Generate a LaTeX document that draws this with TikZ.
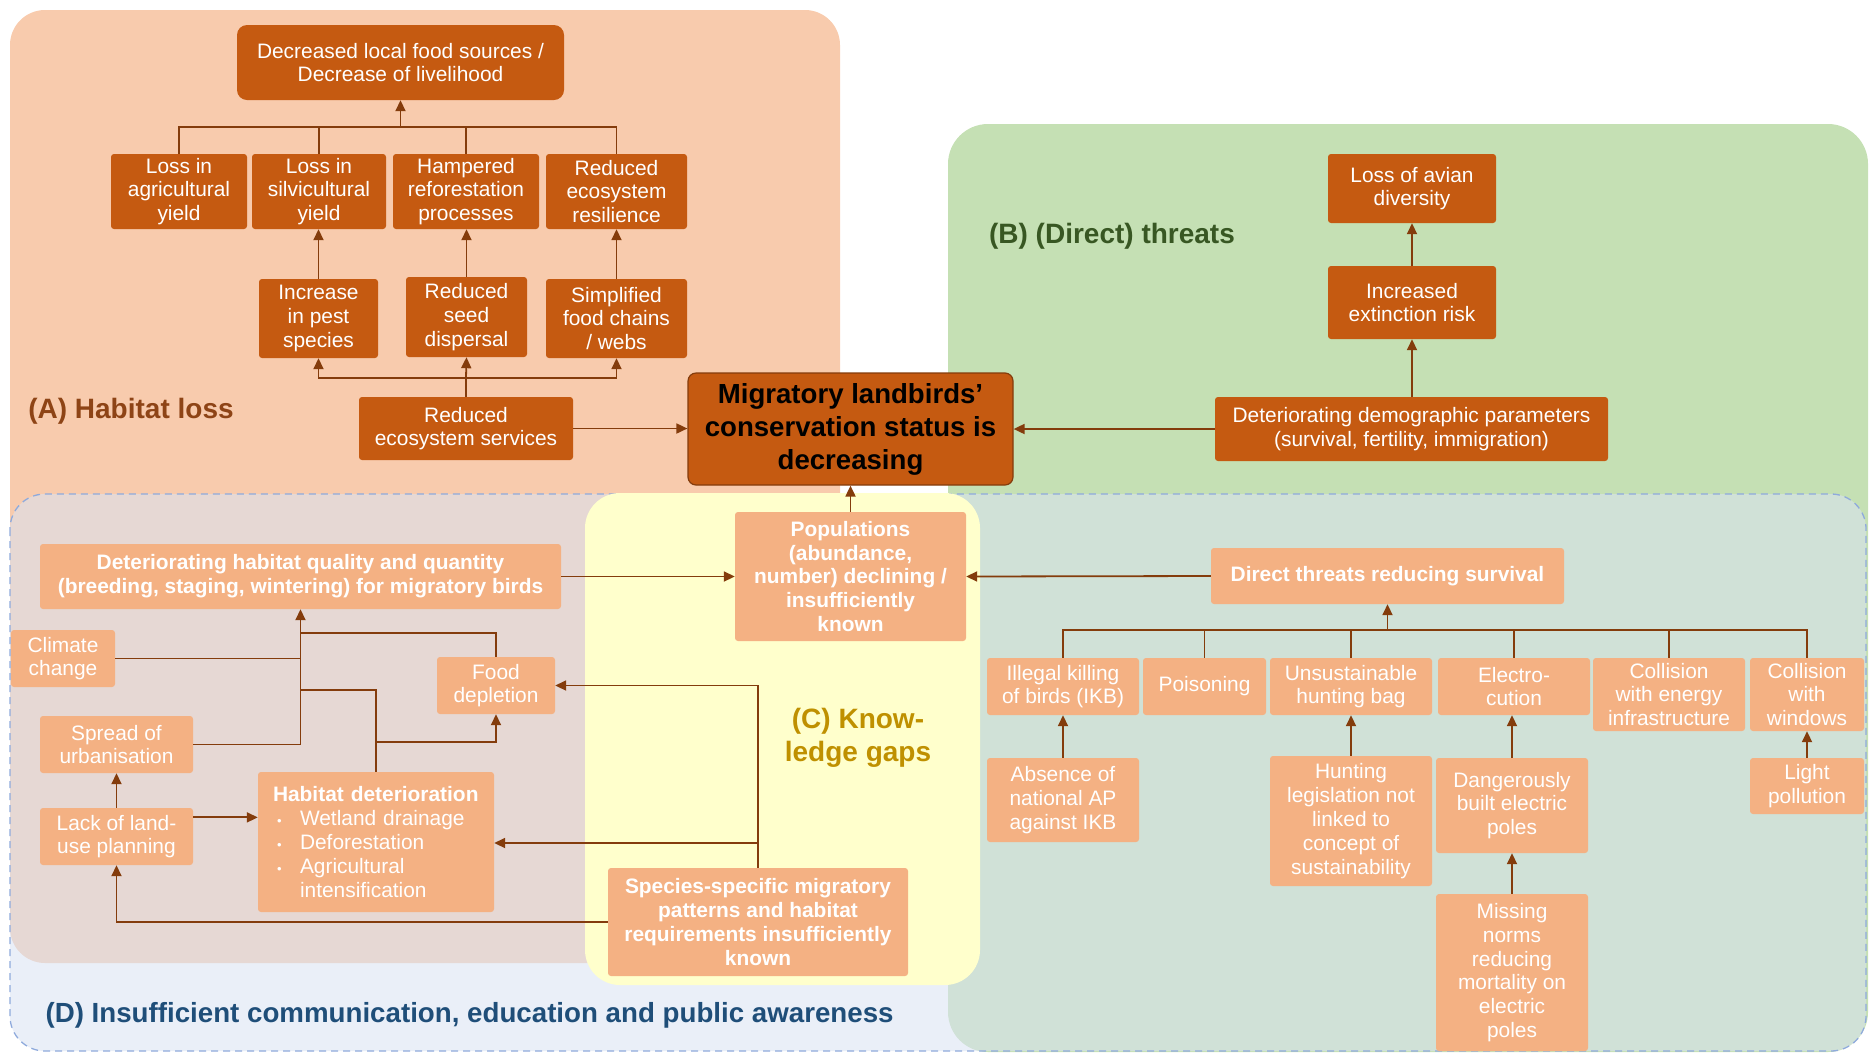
\documentclass[tikz,border=0pt]{standalone}
\usepackage{fontspec}
\setmainfont{Liberation Sans}
\usetikzlibrary{arrows.meta}
\definecolor{dkor}{HTML}{C55A11}
\definecolor{ltor}{HTML}{F4B183}
\definecolor{arrc}{HTML}{843C0C}
\definecolor{regA}{HTML}{F8CBAD}
\definecolor{regB}{HTML}{C5E0B4}
\definecolor{regC}{HTML}{FFFFCC}
\definecolor{regD}{HTML}{DAE3F3}
\definecolor{dashD}{HTML}{8FAADC}
\definecolor{labA}{HTML}{8E4416}
\definecolor{labB}{HTML}{385723}
\definecolor{labC}{HTML}{BF9000}
\definecolor{labD}{HTML}{1F4E79}
\begin{document}
\begin{tikzpicture}[x=1pt,y=-1pt,
 dkbox/.style={fill=dkor,text=white,rounded corners=3pt,align=center,inner sep=2pt,font=\fontsize{20.9}{23.8}\selectfont},
 ltbox/.style={fill=ltor,text=white,rounded corners=3pt,align=center,inner sep=2pt,font=\fontsize{20.9}{23.8}\selectfont},
 ltbold/.style={ltbox,font=\fontsize{20.9}{23.8}\selectfont\bfseries},
 sz/.style 2 args={minimum width=#1,minimum height=#2},
 ln/.style={draw=arrc,line width=1.8pt},
 arr/.style={ln,-{Triangle[length=11pt,width=10pt]}},
 lab/.style={font=\fontsize{28}{33}\selectfont\bfseries,align=center},
]
\useasboundingbox (0,0) rectangle (1870,1053);
% regions
\fill[regA,rounded corners=35pt] (10,10) rectangle (840,963);
\fill[regB,rounded corners=40pt] (948,124) rectangle (1868,1052);
\fill[regD,opacity=0.57,rounded corners=35pt] (10,494) rectangle (1866,1051);
\draw[dashD,line width=1.3pt,dash pattern=on 7pt off 5pt,rounded corners=35pt] (10,494) rectangle (1866,1051);
\fill[regC,rounded corners=35pt] (585,493) rectangle (980,985);

% labels
\node[lab,text=labA] (labA) at (131,411) {(A) Habitat loss};
\node[lab,text=labB] (labB) at (1112,236) {(B) (Direct) threats};
\node[lab,text=labC] (labC) at (858,738) {(C) Know-\\ledge gaps};
\node[lab,text=labD,anchor=west,font=\fontsize{27.7}{33}\selectfont\bfseries] (labD) at (42,1015) {(D) Insufficient communication, education and public awareness};

% A: habitat loss
\node[dkbox,sz={327pt}{75pt},rounded corners=10pt] (top) at (400.5,62.5) {Decreased local food sources /\\Decrease of livelihood};
\node[dkbox,sz={136pt}{75pt}] (agri) at (179,191.5) {Loss in\\agricultural\\yield};
\node[dkbox,sz={134pt}{75pt}] (silvi) at (319,191.5) {Loss in\\silvicultural\\yield};
\node[dkbox,sz={146pt}{75pt}] (hamp) at (466,191.5) {Hampered\\reforestation\\processes};
\node[dkbox,sz={141pt}{75pt}] (resil) at (616.5,191.5) {Reduced\\ecosystem\\resilience};
\node[dkbox,sz={119pt}{79pt}] (pest) at (318.5,318.5) {Increase\\in pest\\species};
\node[dkbox,sz={121pt}{80pt}] (seed) at (466.5,317) {Reduced\\seed\\dispersal};
\node[dkbox,sz={141pt}{79pt}] (foodc) at (616.5,318.5) {Simplified\\food chains\\/ webs};
\node[dkbox,sz={214pt}{63pt}] (serv) at (466,428.5) {Reduced\\ecosystem services};
\node[fill=dkor,draw=arrc,line width=1.2pt,rounded corners=8pt,sz={325pt}{112pt},align=center,font=\fontsize{27.6}{33}\selectfont\bfseries,text=black] (center) at (850.5,429) {Migratory landbirds’\\conservation status is\\decreasing};

\coordinate (busA) at (400.5,127);
\draw[ln] (agri.north) |- (busA) -| (resil.north);
\draw[ln] (silvi.north) -- (silvi.north |- busA);
\draw[ln] (hamp.north) -- (hamp.north |- busA);
\draw[arr] (busA) -- (top.south);
\draw[arr] (pest.north) -- (pest.north |- silvi.south);
\draw[arr] (seed.north) -- (seed.north |- hamp.south);
\draw[arr] (foodc.north) -- (foodc.north |- resil.south);
\coordinate (busB) at (466,378);
\draw[ln] (serv.north) -- (busB);
\draw[arr] (busB) -| (pest.south);
\draw[arr] (busB) -| (foodc.south);
\draw[arr] (busB) -- (seed.south);
\draw[arr] (serv.east) -- (serv.east -| center.west);

% B: direct threats (top)
\node[dkbox,sz={168pt}{69pt}] (avian) at (1412,188.5) {Loss of avian\\diversity};
\node[dkbox,sz={168pt}{73pt}] (extinct) at (1412,302.5) {Increased\\extinction risk};
\node[dkbox,sz={393pt}{64pt}] (demo) at (1411.5,429) {Deteriorating demographic parameters\\(survival, fertility, immigration)};
\draw[arr] (demo.north -| extinct.south) -- (extinct.south);
\draw[arr] (extinct.north) -- (avian.south);
\draw[arr] (demo.west) -- (demo.west -| center.east);

% C / D
\node[ltbold,sz={231pt}{129pt}] (pop) at (850.5,576.5) {Populations\\(abundance,\\number) declining /\\insufficiently\\known};
\draw[arr] (pop.north) -- (center.south);
\node[ltbold,sz={521pt}{65pt}] (dhab) at (300.5,576.5) {Deteriorating habitat quality and quantity\\(breeding, staging, wintering) for migratory birds};
\draw[arr] (dhab.east) -- (pop.west);
\node[ltbox,sz={104pt}{57pt}] (climate) at (63,658.5) {Climate\\change};
\node[ltbox,sz={153pt}{57pt}] (spread) at (116.5,744.5) {Spread of\\urbanisation};
\node[ltbox,sz={153pt}{57pt}] (lack) at (116.5,836.5) {Lack of land-\\use planning};
\node[ltbox,sz={236pt}{140pt},align=left,text width=206pt] (hdet) at (376,842) {\textbf{Habitat deterioration}\\
\hspace*{4pt}\makebox[23pt][l]{\fontsize{13}{13}\selectfont•}Wetland drainage\\
\hspace*{4pt}\makebox[23pt][l]{\fontsize{13}{13}\selectfont•}Deforestation\\
\hspace*{4pt}\makebox[23pt][l]{\fontsize{13}{13}\selectfont•}Agricultural\\
\hspace*{27pt}intensification};
\node[ltbox,sz={118pt}{57pt}] (fooddep) at (496,685.5) {Food\\depletion};
\node[ltbold,sz={300pt}{108pt}] (species) at (758,922) {Species-specific migratory\\patterns and habitat\\requirements insufficiently\\known};

\coordinate (jf) at (300.5,633);
\coordinate (jh) at (300.5,690);
\coordinate (jb) at (376,742);
\coordinate (js) at (758,843);
\draw[arr] (spread.east) -| (dhab.south);
\draw[ln] (climate.east) -- (climate.east -| dhab.south);
\draw[ln] (fooddep.north) |- (jf);
\draw[ln] (hdet.north) |- (jh);
\draw[arr] (jb) -| (fooddep.south);
\draw[arr] (lack.north) -- (spread.south);
\draw[arr] (lack.14) -- (lack.14 -| hdet.west);
\draw[arr] (species.north) |- (fooddep.east);
\draw[arr] (js) -- (js -| hdet.east);
\draw[arr] (species.west) -| (lack.south);

% direct threats reducing survival
\node[ltbold,sz={353pt}{56pt}] (direct) at (1387.5,576) {Direct threats reducing survival};
\draw[arr] (direct.west) -- (pop.east);
\node[ltbox,sz={152pt}{57pt}] (ikb) at (1063,686.5) {Illegal killing\\of birds (IKB)};
\node[ltbox,sz={123pt}{57pt}] (pois) at (1204.5,686.5) {Poisoning};
\node[ltbox,sz={162pt}{57pt}] (hunt) at (1351,686.5) {Unsustainable\\hunting bag};
\node[ltbox,sz={152pt}{57pt}] (elec) at (1514,686.5) {Electro-\\cution};
\node[ltbox,sz={152pt}{73pt}] (colE) at (1669,694.5) {Collision\\with energy\\infrastructure};
\node[ltbox,sz={114pt}{73pt}] (colW) at (1807,694.5) {Collision\\with\\windows};
\node[ltbox,sz={152pt}{84pt}] (absence) at (1063,800) {Absence of\\national AP\\against IKB};
\node[ltbox,sz={162pt}{130pt}] (hleg) at (1351,821) {Hunting\\legislation not\\linked to\\concept of\\sustainability};
\node[ltbox,sz={152pt}{95pt}] (dang) at (1512,805.5) {Dangerously\\built electric\\poles};
\node[ltbox,sz={152pt}{157pt}] (miss) at (1512,972.5) {Missing\\norms\\reducing\\mortality on\\electric\\poles};
\node[ltbox,sz={114pt}{56pt}] (light) at (1807,786) {Light\\pollution};

\coordinate (busT) at (1387.5,630);
\draw[ln] (ikb.north) |- (busT) -| (colW.north);
\draw[ln] (pois.north) -- (pois.north |- busT);
\draw[ln] (hunt.north) -- (hunt.north |- busT);
\draw[ln] (elec.north) -- (elec.north |- busT);
\draw[ln] (colE.north) -- (colE.north |- busT);
\draw[arr] (busT) -- (direct.south);
\draw[arr] (absence.north) -- (ikb.south);
\draw[arr] (hleg.north) -- (hunt.south);
\draw[arr] (dang.north) -- (dang.north |- elec.south);
\draw[arr] (miss.north) -- (dang.south);
\draw[arr] (light.north) -- (colW.south);
\end{tikzpicture}
\end{document}
